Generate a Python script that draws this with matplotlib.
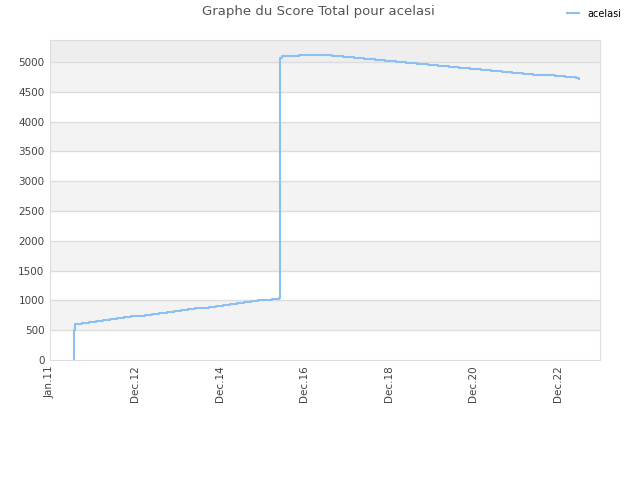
import matplotlib
matplotlib.use("Agg")
import matplotlib.pyplot as plt
import matplotlib.dates as mdates
import pandas as pd

title = "Graphe du Score Total pour acelasi"
series_name = "acelasi"

dates = [
    "2011-06-20", "2011-06-21", "2011-06-28", "2011-07-01", "2011-09-01", "2011-11-01",
    "2012-01-01", "2012-03-01", "2012-05-01", "2012-07-01", "2012-09-01", "2012-11-01",
    "2013-01-01", "2013-03-01", "2013-05-01", "2013-07-01", "2013-09-01", "2013-11-01",
    "2014-01-01", "2014-03-01", "2014-05-01", "2014-07-01", "2014-09-01", "2014-11-01",
    "2015-01-01", "2015-03-01", "2015-05-01", "2015-07-01", "2015-09-01", "2015-11-01",
    "2016-01-01", "2016-03-01", "2016-05-01", "2016-05-10", "2016-05-20", "2016-10-15",
    "2017-05-01", "2017-08-01", "2017-11-01", "2018-02-01", "2018-05-01", "2018-08-01",
    "2018-11-01", "2019-02-01", "2019-05-01", "2019-08-01", "2019-11-01", "2020-02-01",
    "2020-05-01", "2020-08-01", "2020-11-01", "2021-02-01", "2021-05-01", "2021-08-01",
    "2021-11-01", "2022-02-01", "2022-05-01", "2022-08-01", "2022-11-01", "2023-02-01",
    "2023-05-01", "2023-06-01",
]
scores = [
    0, 480, 500, 610, 625, 640,
    655, 670, 685, 700, 715, 730,
    745, 760, 775, 790, 805, 820,
    835, 850, 865, 880, 895, 910,
    925, 940, 955, 970, 985, 1000,
    1015, 1030, 1045, 5060, 5105, 5125,
    5110, 5095, 5079, 5063, 5047, 5031,
    5015, 4999, 4983, 4967, 4951, 4935,
    4919, 4903, 4887, 4871, 4855, 4839,
    4823, 4807, 4791, 4775, 4759, 4743,
    4727, 4718,
]

tick_dates = ["2010-11-29", "2012-12-01", "2014-12-01", "2016-12-01",
              "2018-12-01", "2020-12-01", "2022-12-01"]
tick_labels = ["Jan.11", "Dec.12", "Dec.14", "Dec.16", "Dec.18", "Dec.20", "Dec.22"]
y_ticks = list(range(0, 5001, 500))

x = pd.to_datetime(dates)

fig = plt.figure(figsize=(6.4, 4.8), dpi=100)
ax = fig.add_axes([50/640, 1-360/480, 550/640, 320/480])

ymax = 5370
for lo in range(500, 5000, 1000):
    ax.axhspan(lo, lo + 500, color="#f3f3f3", zorder=0, lw=0)
ax.axhspan(5000, ymax, color="#eeeeee", zorder=0, lw=0)
for yv in y_ticks[1:]:
    ax.axhline(yv, color="#dddddd", lw=1, zorder=1)

ax.plot(x, scores, drawstyle="steps-post", color="#8cbff2", lw=1.5, zorder=3, label=series_name)

ax.set_ylim(0, ymax)
ax.set_xlim(pd.Timestamp("2010-11-29"), pd.Timestamp("2023-11-28"))
ax.set_yticks(y_ticks)
ax.set_xticks(pd.to_datetime(tick_dates))
ax.set_xticklabels(tick_labels, rotation=90)
ax.tick_params(length=0, labelsize=7.5, colors="#444444", pad=4)
for s in ax.spines.values():
    s.set_color("#dddddd")

fig.text(318/640, 1-12/480, title, ha="center", va="center", fontsize=9.5, color="#555555")
leg = fig.legend(loc="upper right", bbox_to_anchor=(0.985, 1.0), frameon=False, fontsize=7,
                 handlelength=1.2, handletextpad=0.9)

fig.savefig("out.png", dpi=100)
